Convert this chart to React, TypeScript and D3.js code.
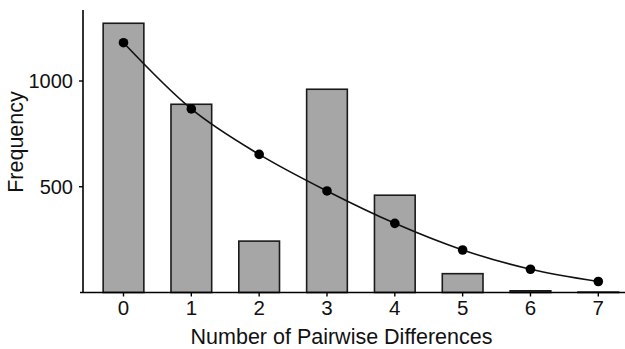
import React from "react";
import * as d3 from "d3";

const categories = [0, 1, 2, 3, 4, 5, 6, 7];
const observed = [1273, 890, 243, 961, 460, 89, 8, 2];
const expected = [1181, 868, 653, 480, 327, 201, 110, 52];
const yTicks = [500, 1000];

const W = 625;
const H = 349;

export default function App() {
  const x = d3.scaleLinear().domain([0, 7]).range([123.5, 598.3]);
  const y = d3.scaleLinear().domain([0, 1000]).range([292.5, 81]);
  const step = x(1) - x(0);
  const bw = step * 0.6;
  const panelTop = 10;
  const panelLeft = 83;
  const line = d3
    .line<number>()
    .x((_, i) => x(categories[i]))
    .y((d) => y(d))
    .curve(d3.curveMonotoneX);
  const font = "Liberation Sans, Arial, sans-serif";
  return (
    <svg
      width={W}
      height={H}
      style={{ position: "absolute", left: 0, top: 0, display: "block", background: "#fff" }}
    >
      {categories.map((c, i) => (
        <rect
          key={c}
          x={x(c) - bw / 2}
          y={y(observed[i])}
          width={bw}
          height={y(0) - y(observed[i])}
          fill="#a6a6a6"
          stroke="#1a1a1a"
          strokeWidth={1.6}
        />
      ))}
      <path d={line(expected) || ""} fill="none" stroke="#111" strokeWidth={1.6} />
      {categories.map((c, i) => (
        <circle key={c} cx={x(c)} cy={y(expected[i])} r={4.8} fill="#000" />
      ))}
      {/* axes */}
      <line x1={panelLeft} x2={panelLeft} y1={panelTop} y2={y(0)} stroke="#000" strokeWidth={1.6} />
      <line x1={80} x2={W} y1={y(0)} y2={y(0)} stroke="#000" strokeWidth={1.6} />
      {yTicks.map((t) => (
        <g key={t}>
          <line x1={panelLeft - 4} x2={panelLeft} y1={y(t)} y2={y(t)} stroke="#000" strokeWidth={1.4} />
          <text
            x={panelLeft - 10}
            y={y(t)}
            dy="0.36em"
            textAnchor="end"
            fontFamily={font}
            fontSize={20}
            fill="#111"
          >
            {t}
          </text>
        </g>
      ))}
      {categories.map((c) => (
        <g key={c}>
          <line x1={x(c)} x2={x(c)} y1={y(0)} y2={y(0) + 4} stroke="#000" strokeWidth={1.4} />
          <text
            x={x(c)}
            y={315}
            textAnchor="middle"
            fontFamily={font}
            fontSize={20.5}
            fill="#111"
          >
            {c}
          </text>
        </g>
      ))}
      <text
        x={341.5}
        y={344}
        textAnchor="middle"
        fontFamily={font}
        fontSize={21.5}
        fill="#111"
      >
        Number of Pairwise Differences
      </text>
      <text
        transform={`translate(22.5, 142) rotate(-90)`}
        textAnchor="middle"
        fontFamily={font}
        fontSize={21.5}
        fill="#111"
      >
        Frequency
      </text>
    </svg>
  );
}
